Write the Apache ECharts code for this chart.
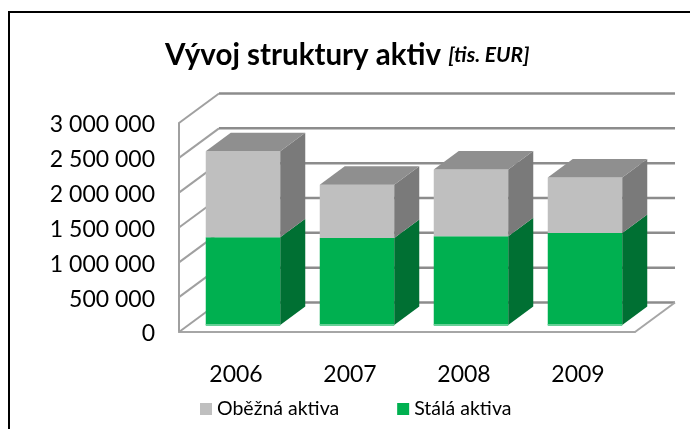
<!DOCTYPE html>
<html>
<head>
<meta charset="utf-8">
<style>
  html, body { margin: 0; padding: 0; background: #fff; }
  #main { width: 690px; height: 429px; }
</style>
<script src="https://cdn.jsdelivr.net/npm/echarts@6/dist/echarts.min.js"></script>
</head>
<body>
<div id="main"></div>
<script>
const years = ['2006', '2007', '2008', '2009']
const staleAktiva = [1260000, 1250000, 1275000, 1320000]
const obezneAktiva = [1235000, 764000, 957000, 798000]
const tickValues = [0, 500000, 1000000, 1500000, 2000000, 2500000, 3000000]

// perspektiva pseudo 3D grafu (px)
const wallDx = 40
const wallDy = -29.5
const barInset = 7
const barWidth = 74.5
const barDx = 25
const barDy = -18.5

const chart = echarts.init(document.getElementById('main'))

function formatThousands(val) {
  return '{v|' + String(val).replace(/\B(?=(\d{3})+$)/g, ' ') + '}'
}

function poly(points, fill) {
  return { type: 'polygon', shape: { points: points }, style: { fill: fill } }
}

// zadni stena a bocni stena
function renderWall(params, api) {
  const sys = params.coordSys
  const y = api.coord([0, api.value(0)])[1]
  const left = sys.x
  const right = sys.x + sys.width
  const children = [
    {
      type: 'line',
      shape: { x1: left + wallDx, y1: y + wallDy, x2: right + wallDx, y2: y + wallDy },
      style: { stroke: '#8c8c8c', lineWidth: 2.5 }
    },
    {
      type: 'line',
      shape: { x1: left, y1: y, x2: left + wallDx, y2: y + wallDy },
      style: { stroke: '#a0a0a0', lineWidth: 2 }
    }
  ]
  if (api.value(0) === 0) {
    children.push({
      type: 'line',
      shape: { x1: right, y1: y, x2: right + wallDx, y2: y + wallDy },
      style: { stroke: '#a6a6a6', lineWidth: 2 }
    })
  }
  return { type: 'group', children: children }
}

function barRenderer(front, side, top, baseStrip) {
  return function (params, api) {
    const low = api.coord([api.value(0), api.value(1)])
    const high = api.coord([api.value(0), api.value(2)])
    const x0 = low[0] - barWidth / 2 + barInset
    const x1 = x0 + barWidth
    const y0 = low[1] - barInset
    const y1 = high[1] - barInset
    const children = [
      poly([[x0, y0], [x1, y0], [x1, y1], [x0, y1]], front),
      poly([[x1, y0], [x1 + barDx, y0 + barDy], [x1 + barDx, y1 + barDy], [x1, y1]], side)
    ]
    if (top) {
      children.push(poly([[x0, y1], [x1, y1], [x1 + barDx, y1 + barDy], [x0 + barDx, y1 + barDy]], top))
    }
    if (baseStrip) {
      children.push(poly([[x0, y0 - 1], [x1, y0 - 1], [x1, y0 + 1], [x0, y0 + 1]], baseStrip))
    }
    return { type: 'group', children: children }
  }
}

const stableData = years.map((y, i) => [i, 0, staleAktiva[i]])
const currentData = years.map((y, i) => [i, staleAktiva[i], staleAktiva[i] + obezneAktiva[i]])

chart.setOption({
  animation: false,
  backgroundColor: '#fff',
  textStyle: { fontFamily: 'Lato' },
  title: {
    text: 'Vývoj struktury aktiv {sub|[tis. EUR]}',
    left: 160,
    top: 35,
    textStyle: {
      fontFamily: 'Lato',
      fontSize: 29.5,
      fontWeight: 'bold',
      color: '#000',
      rich: {
        sub: { fontFamily: 'Lato', fontSize: 21, fontWeight: 'bold', fontStyle: 'italic', color: '#000' }
      }
    }
  },
  legend: {
    left: 195,
    top: 394,
    icon: 'rect',
    itemWidth: 12,
    itemHeight: 12,
    itemGap: 58,
    data: ['Oběžná aktiva', 'Stálá aktiva'],
    textStyle: { fontFamily: 'Lato', fontSize: 19.5, color: '#000' }
  },
  grid: { left: 179, right: 55, top: 123, bottom: 97 },
  xAxis: {
    type: 'category',
    data: years,
    axisTick: { show: false },
    axisLine: { lineStyle: { color: '#a6a6a6', width: 2 } },
    axisLabel: { fontFamily: 'Lato', fontSize: 23, color: '#000', margin: 31 }
  },
  yAxis: {
    type: 'value',
    min: 0,
    max: 3000000,
    interval: 500000,
    splitLine: { show: false },
    axisTick: { show: false },
    axisLine: { show: true, lineStyle: { color: '#a0a0a0', width: 2 } },
    axisLabel: {
      color: '#000',
      margin: 24,
      formatter: formatThousands,
      rich: {
        v: { fontFamily: 'Lato', fontSize: 23, color: '#000', padding: [4, 0, 0, 0] }
      }
    }
  },
  series: [
    {
      name: 'wall',
      type: 'custom',
      renderItem: renderWall,
      encode: { y: 0 },
      data: tickValues.map(v => [v]),
      silent: true
    },
    {
      name: 'Stálá aktiva',
      type: 'custom',
      renderItem: barRenderer('#00b050', '#007033', null, '#66d096'),
      encode: { x: 0, y: [1, 2] },
      itemStyle: { color: '#00b050' },
      data: stableData
    },
    {
      name: 'Oběžná aktiva',
      type: 'custom',
      renderItem: barRenderer('#bfbfbf', '#7a7a7a', '#8f8f8f', null),
      encode: { x: 0, y: [1, 2] },
      itemStyle: { color: '#bfbfbf' },
      data: currentData
    }
  ],
  graphic: [
    {
      type: 'polyline',
      shape: { points: [[9, 429], [9, 12], [690, 12]] },
      style: { stroke: '#000', lineWidth: 2, fill: 'none' }
    }
  ]
})
</script>
</body>
</html>
